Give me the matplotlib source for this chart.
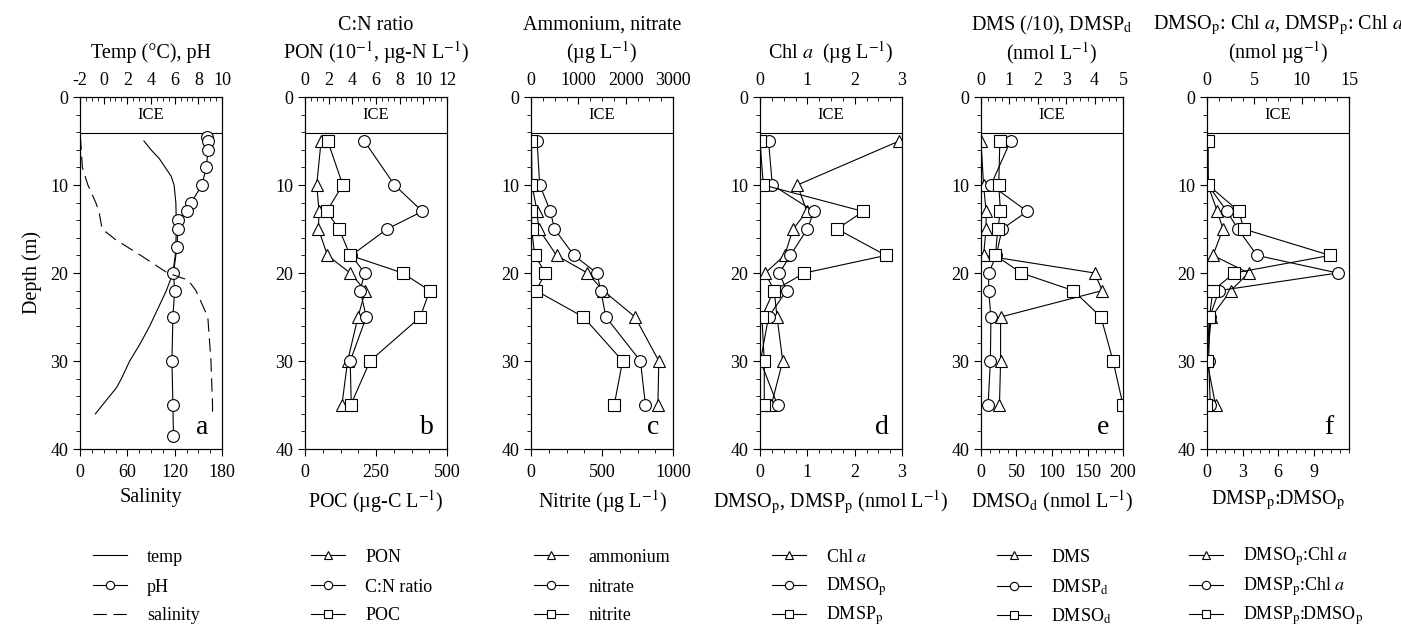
import matplotlib
matplotlib.use('Agg')
import matplotlib.pyplot as plt
from matplotlib.ticker import MultipleLocator, FixedLocator

plt.rcParams['font.family'] = ['Liberation Serif', 'DejaVu Serif']
plt.rcParams['mathtext.fontset'] = 'stix'
plt.rcParams['axes.unicode_minus'] = False

# depths shared by most profiles (m)
depth = [5, 10, 13, 15, 18, 20, 22, 25, 30, 35]

# panel a
ph_depth = [4.5, 5, 6, 8, 10, 12, 13, 14, 15, 17, 20, 22, 25, 30, 35, 38.5]
ph = [8.76, 8.82, 8.82, 8.68, 8.3, 7.4, 7.0, 6.3, 6.27, 6.2, 5.9, 6.0, 5.85, 5.77, 5.85, 5.9]
temp_depth = [5, 6, 7, 8, 9, 10, 12, 15, 18, 20, 22, 24, 26, 28, 30, 32, 33, 34, 36]
temp = [3.4, 4.0, 4.7, 5.2, 5.7, 5.95, 6.1, 6.15, 6.05, 5.85, 5.3, 4.6, 3.9, 3.1, 2.2, 1.5, 1.1, 0.5, -0.7]
sal_depth = [4.5, 8, 10, 12, 13, 15, 16.2, 18, 20, 20.8, 22, 25, 30, 35, 35.9]
salinity = [0.5, 3, 10, 20, 24, 28, 45, 77, 111, 137, 147, 162, 166, 168, 168]

# panel b
pon = [1.36, 0.99, 1.19, 1.13, 1.90, 3.82, 5.10, 4.48, 3.60, 3.12]
cn_ratio = [5.01, 7.56, 9.92, 6.94, 3.91, 5.04, 4.67, 5.18, 3.82, 3.91]
poc = [80, 133, 76, 120, 159, 344, 439, 406, 229, 161]

# panel c
ammonium = [10, 21, 128, 163, 539, 1191, 1525, 2199, 2700, 2681]
nitrate = [128, 184, 411, 496, 908, 1390, 1475, 1582, 2312, 2418]
nitrite = [2, 3, 3, 5, 26, 102, 35, 369, 645, 586]

# panel d
chl_a = [2.94, 0.79, 0.99, 0.70, 0.52, 0.11, 0.30, 0.36, 0.48, 0.24]
dmso_p = [0.18, 0.26, 1.14, 1.0, 0.64, 0.41, 0.56, 0.18, 0.01, 0.37]
dmsp_p = [0.0, 0.07, 2.18, 1.63, 2.66, 0.94, 0.29, 0.04, 0.09, 0.09]

# panel e
dms = [0.0, 0.09, 0.18, 0.18, 0.09, 4.0, 4.27, 0.69, 0.69, 0.65]
dmsp_d = [1.04, 0.35, 1.63, 0.74, 0.54, 0.27, 0.27, 0.35, 0.33, 0.25]
dmso_d = [26.5, 25, 27.4, 23.6, 20.3, 56.7, 130, 169, 186, 200]

# panel f
dmso_chl = [0.0, 0.1, 1.09, 1.69, 0.63, 4.4, 2.5, 0.46, 0.0, 0.9]
dmsp_chl = [0.0, 0.1, 2.11, 3.27, 5.28, 13.8, 1.27, 0.28, 0.18, 0.35]
dmsp_dmso = [0.1, 0.1, 2.7, 3.1, 10.4, 2.3, 0.5, 0.2, 0.0, -0.05]

ice_depth = 4.1
W, H = 1401, 632
lefts = [80, 305, 531, 760, 981, 1207]
ax_w, ax_top, ax_bot = 142, 97, 449
leg_rows = [557, 587, 616]

# (top label lines, top limits, top major, bottom label, bottom limits, bottom major, letter)
panels = [
    (['Temp (°C), pH'], (-2, 10), 2, 'Salinity', (0, 180), 60, 'a'),
    (['C:N ratio', r'PON (10$^{-1}$, µg-N L$^{-1}$)'], (0, 12), 2,
     r'POC (µg-C L$^{-1}$)', (0, 500), 250, 'b'),
    (['Ammonium, nitrate', r'(µg L$^{-1}$)'], (0, 3000), 1000,
     r'Nitrite (µg L$^{-1}$)', (0, 1000), 500, 'c'),
    ([r'Chl $a$  (µg L$^{-1}$)'], (0, 3), 1,
     r'DMSO$_{\mathrm{p}}$, DMSP$_{\mathrm{p}}$ (nmol L$^{-1}$)', (0, 3), 1, 'd'),
    ([r'DMS (/10), DMSP$_{\mathrm{d}}$', r'(nmol L$^{-1}$)'], (0, 5), 1,
     r'DMSO$_{\mathrm{d}}$ (nmol L$^{-1}$)', (0, 200), 50, 'e'),
    ([r'DMSO$_{\mathrm{p}}$: Chl $a$, DMSP$_{\mathrm{p}}$: Chl $a$', r'(nmol µg$^{-1}$)'], (0, 15), 5,
     r'DMSP$_{\mathrm{p}}$:DMSO$_{\mathrm{p}}$', (0, 12), 3, 'f'),
]

fig = plt.figure(figsize=(W / 100, H / 100), dpi=100)

mk = dict(color='black', lw=0.8, mfc='white', mec='black', mew=0.8, ms=8.5)

for i, (top_lab, top_lim, top_maj, bot_lab, bot_lim, bot_maj, letter) in enumerate(panels):
    ax = fig.add_axes([lefts[i] / W, 1 - ax_bot / H, ax_w / W, (ax_bot - ax_top) / H])
    axb = ax.twiny()

    ax.set_ylim(40, 0)
    ax.yaxis.set_major_locator(MultipleLocator(10))
    ax.yaxis.set_minor_locator(MultipleLocator(2))
    ax.tick_params(axis='y', which='both', direction='out', right=False, labelsize=13)
    ax.tick_params(axis='y', which='major', length=5)
    ax.tick_params(axis='y', which='minor', length=3)

    ax.set_xlim(*top_lim)
    ax.xaxis.set_major_locator(MultipleLocator(top_maj))
    ax.xaxis.set_minor_locator(MultipleLocator(top_maj / 4))
    ax.xaxis.set_ticks_position('top')
    ax.tick_params(axis='x', which='both', direction='in', labelsize=13, pad=6)
    ax.tick_params(axis='x', which='major', length=5)
    ax.tick_params(axis='x', which='minor', length=3)

    axb.set_xlim(*bot_lim)
    if letter == 'f':
        axb.xaxis.set_major_locator(FixedLocator([0, 3, 6, 9]))
    else:
        axb.xaxis.set_major_locator(MultipleLocator(bot_maj))
    axb.xaxis.set_minor_locator(MultipleLocator(bot_maj / 4))
    axb.xaxis.set_ticks_position('bottom')
    axb.xaxis.set_label_position('bottom')
    axb.tick_params(axis='x', which='both', direction='out', labelsize=13, pad=6)
    axb.tick_params(axis='x', which='major', length=5)
    axb.tick_params(axis='x', which='minor', length=3)
    axb.set_xlabel(bot_lab, fontsize=14.5, labelpad=5)

    for sp in list(ax.spines.values()) + list(axb.spines.values()):
        sp.set_linewidth(0.8)

    # labels above the top axis
    ax.text(0.5, (ax_bot - 53) / (ax_bot - ax_top), top_lab[-1], transform=ax.transAxes,
            ha='center', va='center', fontsize=14.5)
    if len(top_lab) > 1:
        ax.text(0.5, (ax_bot - 25) / (ax_bot - ax_top), top_lab[0], transform=ax.transAxes,
                ha='center', va='center', fontsize=14.5)

    # ice layer
    ax.axhline(ice_depth, color='black', lw=0.8)
    ax.text(0.5, 2.0, 'ICE', transform=ax.get_yaxis_transform(), ha='center', va='center', fontsize=12)
    ax.text(0.86, 37.5, letter, transform=ax.get_yaxis_transform(), ha='center', va='center', fontsize=20)

    if i == 0:
        ax.set_ylabel('Depth (m)', fontsize=14.5, labelpad=6)
        h1, = ax.plot(temp, temp_depth, color='black', lw=0.8, label='temp')
        h2, = ax.plot(ph, ph_depth, marker='o', label='pH', **mk)
        h3, = axb.plot(salinity, sal_depth, color='black', lw=0.8, dashes=(12, 6), label='salinity')
    elif i == 1:
        h1, = ax.plot(pon, depth, marker='^', label='PON', **mk)
        h2, = ax.plot(cn_ratio, depth, marker='o', label='C:N ratio', **mk)
        h3, = axb.plot(poc, depth, marker='s', label='POC', **mk)
    elif i == 2:
        h1, = ax.plot(ammonium, depth, marker='^', label='ammonium', **mk)
        h2, = ax.plot(nitrate, depth, marker='o', label='nitrate', **mk)
        h3, = axb.plot(nitrite, depth, marker='s', label='nitrite', **mk)
    elif i == 3:
        h1, = ax.plot(chl_a, depth, marker='^', label=r'Chl $a$', **mk)
        h2, = axb.plot(dmso_p, depth, marker='o', label=r'DMSO$_\mathrm{p}$', **mk)
        h3, = axb.plot(dmsp_p, depth, marker='s', label=r'DMSP$_\mathrm{p}$', **mk)
    elif i == 4:
        h1, = ax.plot(dms, depth, marker='^', label='DMS', **mk)
        h2, = ax.plot(dmsp_d, depth, marker='o', label=r'DMSP$_\mathrm{d}$', **mk)
        h3, = axb.plot(dmso_d, depth, marker='s', label=r'DMSO$_\mathrm{d}$', **mk)
    else:
        h1, = ax.plot(dmso_chl, depth, marker='^', label=r'DMSO$_\mathrm{p}$:Chl $a$', **mk)
        h2, = ax.plot(dmsp_chl, depth, marker='o', label=r'DMSP$_\mathrm{p}$:Chl $a$', **mk)
        h3, = axb.plot(dmsp_dmso, depth, marker='s', label=r'DMSP$_\mathrm{p}$:DMSO$_\mathrm{p}$', **mk)

    # one legend per row keeps the rows evenly spaced
    leg_x = [93, 311, 534, 772, 997, 1189][i]
    for h, row_y in zip([h1, h2, h3], leg_rows):
        fig.legend(handles=[h], loc='center left',
                   bbox_to_anchor=(leg_x / W, 1 - row_y / H), frameon=False, fontsize=13,
                   handlelength=1.9, handletextpad=1.1,
                   borderpad=0, borderaxespad=0, markerscale=0.7)

fig.savefig('out.png', dpi=100)
